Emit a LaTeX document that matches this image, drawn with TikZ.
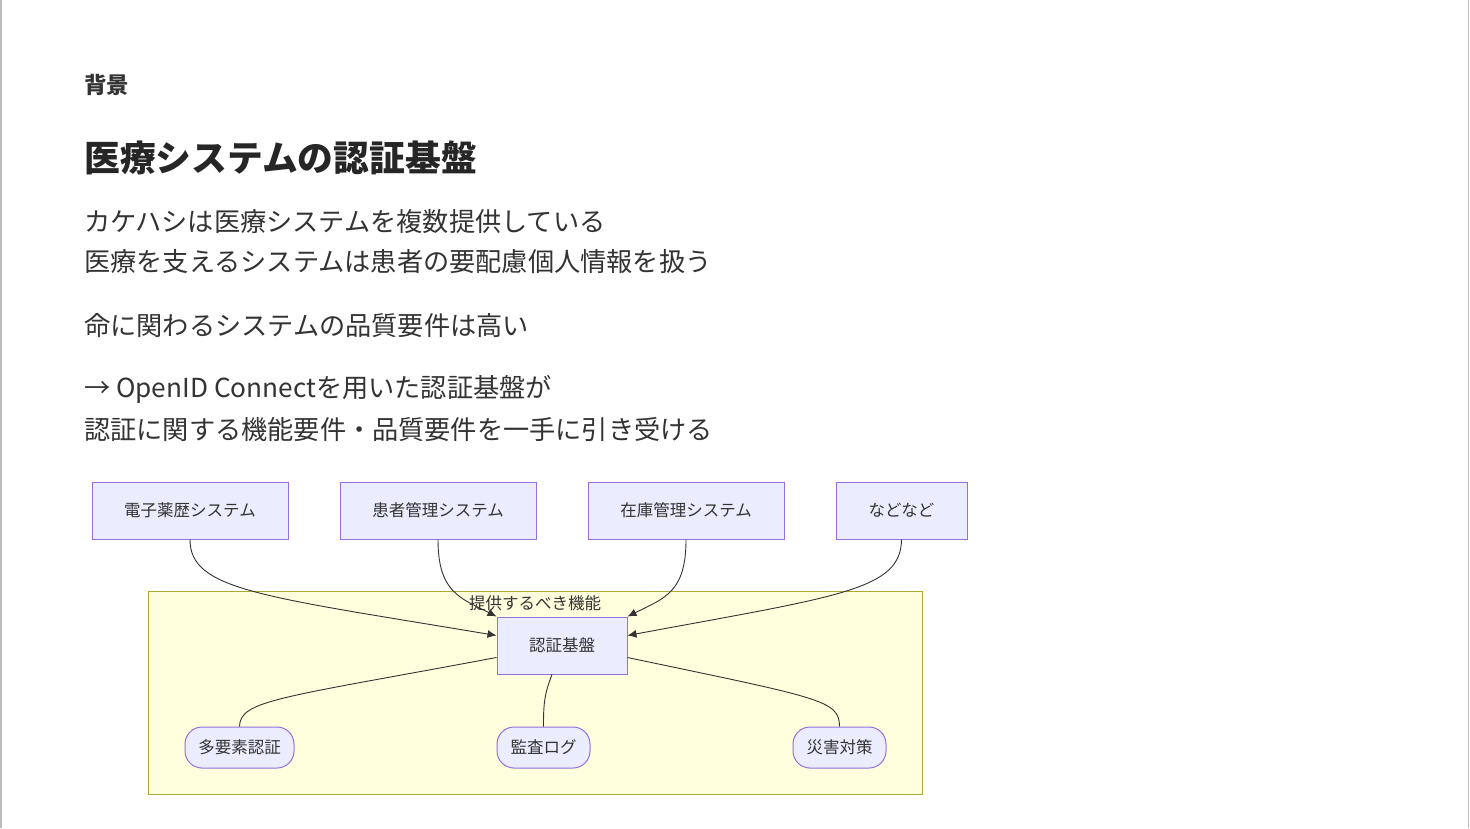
\documentclass[tikz,border=0pt]{standalone}
\usepackage{fontspec}
\setmainfont{Noto Sans CJK JP}
\usepackage{tikz}
\usetikzlibrary{arrows.meta,positioning,calc}
\definecolor{mmNode}{HTML}{ECECFF}
\definecolor{mmStroke}{HTML}{9370DB}
\definecolor{mmCluster}{HTML}{FFFFDE}
\definecolor{mmClusterLine}{HTML}{AAAA33}
\definecolor{mmEdge}{HTML}{333333}
\definecolor{slideText}{HTML}{333333}
\definecolor{slideFrame}{HTML}{BBBBBB}

\begin{document}
\begin{tikzpicture}[x=1pt,y=-1pt,
    sysbox/.style={draw=mmStroke, fill=mmNode, line width=1pt, minimum height=57pt,
      inner sep=0pt, font=\fontsize{16.5}{18}\selectfont, text=mmEdge},
    featbox/.style={draw=mmStroke, fill=mmNode, line width=1pt, rounded corners=17pt,
      minimum height=41pt, inner sep=0pt, font=\fontsize{16.5}{18}\selectfont, text=mmEdge},
    edge/.style={draw=mmEdge, line width=0.9pt},
    tip/.style={edge, -{Latex[length=9pt,width=8pt]}},
    bodytext/.style={anchor=west, inner sep=0pt, text=slideText, font=\fontsize{26.2}{30}\selectfont}]
  \useasboundingbox[fill=white] (0,0) rectangle (1470,828);
  \draw[slideFrame, line width=1.5pt] (0.75,0) -- (0.75,828);
  \draw[slideFrame, line width=1.5pt] (1468.5,0) -- (1468.5,828);

  % slide text
  \node[anchor=west, inner sep=0pt, text=slideText, font=\fontsize{22.5}{24}\selectfont\bfseries] (kicker) at (84,85) {背景};
  \node[anchor=west, inner sep=0pt, text=black!85, font=\fontsize{35.8}{40}\selectfont\bfseries] (title) at (84,158) {医療システムの認証基盤};
  \node[bodytext] (line1) at (84,222) {カケハシは医療システムを複数提供している};
  \node[bodytext] (line2) at (84,262) {医療を支えるシステムは患者の要配慮個人情報を扱う};
  \node[bodytext] (line3) at (84,326) {命に関わるシステムの品質要件は高い};
  \node[bodytext] (line4) at (84,389) {→ OpenID Connectを用いた認証基盤が};
  \node[bodytext] (line5) at (84,430) {認証に関する機能要件・品質要件を一手に引き受ける};

  % subgraph
  \draw[fill=mmCluster, draw=mmClusterLine, line width=1pt] (148,591) rectangle (922,794);
  \node[font=\fontsize{16.5}{18}\selectfont, text=mmEdge, inner sep=0pt] (clusterlabel) at (535,603) {提供するべき機能};

  \node[sysbox, minimum width=196pt] (yakureki) at (190,510.5) {電子薬歴システム};
  \node[sysbox, minimum width=196pt] (kanja) at (438,510.5) {患者管理システム};
  \node[sysbox, minimum width=196pt] (zaiko) at (686,510.5) {在庫管理システム};
  \node[sysbox, minimum width=131pt] (nado) at (901.5,510.5) {などなど};

  \node[sysbox, minimum width=130pt] (ninsho) at (562,645.5) {認証基盤};

  \node[featbox, minimum width=109pt] (mfa) at (239.5,747.5) {多要素認証};
  \node[featbox, minimum width=93pt] (audit) at (543.5,747.5) {監査ログ};
  \node[featbox, minimum width=93pt] (disaster) at (839.5,747.5) {災害対策};

  \draw[tip] (yakureki.south) .. controls (190,590) and (260,596) .. ([yshift=10pt]ninsho.west);
  \draw[tip] (kanja.south) .. controls (438,592) and (460,598) .. (ninsho.north west);
  \draw[tip] (zaiko.south) .. controls (686,592) and (665,598) .. (ninsho.north east);
  \draw[tip] (nado.south) .. controls (901,590) and (840,596) .. ([yshift=10pt]ninsho.east);

  \draw[edge] ([yshift=-12pt]ninsho.west) .. controls (280,698) and (240,700) .. (mfa.north);
  \draw[edge] ([xshift=-10pt]ninsho.south) .. controls (544,695) and (543.5,705) .. (audit.north);
  \draw[edge] ([yshift=-12pt]ninsho.east) .. controls (820,698) and (839.5,700) .. (disaster.north);
\end{tikzpicture}
\end{document}
